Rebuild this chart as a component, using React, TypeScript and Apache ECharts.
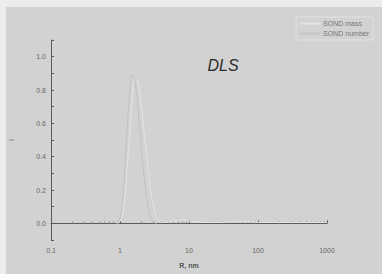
import React, { useEffect, useRef } from "react";
import * as echarts from "echarts";

const seriesNames = ["SOND mass", "SOND number"];
const massR = [0.9, 1.0, 1.1, 1.2, 1.35, 1.5, 1.65, 1.8, 2.0, 2.2, 2.5, 2.8, 3.2, 3.6, 4.2, 5, 6, 7, 8, 9, 10, 12, 15, 20, 30, 50, 80, 100, 200, 500, 1000];
const massI = [0, 0.01, 0.06, 0.2, 0.48, 0.74, 0.87, 0.86, 0.74, 0.57, 0.36, 0.19, 0.07, 0.02, 0.005, 0.008, 0.012, 0.018, 0.022, 0.02, 0.012, 0.008, 0.005, 0.005, 0.006, 0.01, 0.01, 0.006, 0.005, 0.005, 0.005];
const numberR = [0.9, 1.0, 1.1, 1.2, 1.3, 1.4, 1.5, 1.6, 1.75, 1.9, 2.1, 2.4, 2.7, 3.0, 3.4];
const numberI = [0, 0.03, 0.15, 0.38, 0.64, 0.82, 0.89, 0.88, 0.77, 0.6, 0.39, 0.17, 0.05, 0.01, 0];
const xTicks = [0.1, 1, 10, 100, 1000];
const yTicks = [0, 0.2, 0.4, 0.6, 0.8, 1.0];

export default function App() {
  const ref = useRef<HTMLDivElement>(null);
  useEffect(() => {
    const chart = echarts.init(ref.current!, null, { renderer: "svg" });
    const axisColor = "#5a5a5a";
    chart.setOption({
      animation: false,
      backgroundColor: "transparent",
      title: {
        text: "DLS",
        left: 218,
        top: 52,
        textAlign: "center",
        textStyle: { fontFamily: "Liberation Sans", fontStyle: "italic", fontWeight: "normal", fontSize: 16, color: "#2a2a2a" },
      },
      legend: {
        orient: "vertical",
        right: 9,
        top: 17,
        itemWidth: 20,
        itemHeight: 2,
        itemGap: 3,
        padding: [3, 4, 3, 4],
        borderColor: "#e2e2e2",
        borderWidth: 1,
        icon: "rect",
        data: seriesNames,
        textStyle: { fontSize: 7, color: "#777", fontFamily: "Liberation Sans", padding: [0, 0, 0, -2] },
      },
      grid: { left: 51, right: 55, top: 40, bottom: 31 },
      xAxis: {
        type: "log",
        logBase: 10,
        min: 0.1,
        max: 1000,
        axisLine: { lineStyle: { color: axisColor, width: 1 } },
        axisTick: { show: true, inside: true, length: 3, lineStyle: { color: axisColor } },
        minorTick: { show: true, splitNumber: 9, length: 2, lineStyle: { color: "#999" } },
        splitLine: { show: false },
        axisLabel: {
          fontSize: 7,
          color: "#666",
          fontFamily: "Liberation Sans",
          margin: 7,
          formatter: (v: number) => {
            const m = xTicks.find((t) => Math.abs(t - v) / t < 1e-6);
            return m === undefined ? "" : String(m);
          },
        },
        name: "R, nm",
        nameLocation: "middle",
        nameGap: 22,
        nameTextStyle: { fontSize: 7, color: "#555", fontWeight: "bold", fontFamily: "Liberation Sans" },
      },
      yAxis: {
        type: "value",
        min: -0.1,
        max: 1.1,
        interval: 0.1,
        axisLine: { show: true, lineStyle: { color: axisColor, width: 1 } },
        axisTick: { show: true, inside: true, length: 3, lineStyle: { color: axisColor } },
        splitLine: { show: false },
        axisLabel: {
          fontSize: 7,
          color: "#666",
          fontFamily: "Liberation Sans",
          margin: 5,
          formatter: (v: number) => {
            const m = yTicks.find((t) => Math.abs(t - v) < 1e-6);
            return m === undefined ? "" : m.toFixed(1);
          },
        },
        name: "I",
        nameLocation: "middle",
        nameGap: 36,
        nameTextStyle: { fontSize: 7, color: "#666", fontFamily: "Liberation Sans" },
      },
      series: [
        {
          name: seriesNames[0],
          type: "line",
          data: massR.map((r, i) => [r, massI[i]]),
          showSymbol: false,
          smooth: 0.3,
          lineStyle: { color: "#e4e4e4", width: 1 },
          itemStyle: { color: "#e4e4e4" },
        },
        {
          name: seriesNames[1],
          type: "line",
          data: numberR.map((r, i) => [r, numberI[i]]),
          showSymbol: false,
          smooth: 0.3,
          lineStyle: { color: "#c2c2c2", width: 1 },
          itemStyle: { color: "#c2c2c2" },
        },
      ],
    });
    return () => chart.dispose();
  }, []);
  return (
    <div style={{ position: "fixed", left: 0, top: 0, width: 382, height: 274, background: "#ececec" }}>
      <div style={{ position: "absolute", left: 6, top: 7, right: 0, bottom: 0, background: "#d2d2d2" }} />
      <div ref={ref} style={{ position: "absolute", left: 0, top: 0, width: 382, height: 274 }} />
    </div>
  );
}
